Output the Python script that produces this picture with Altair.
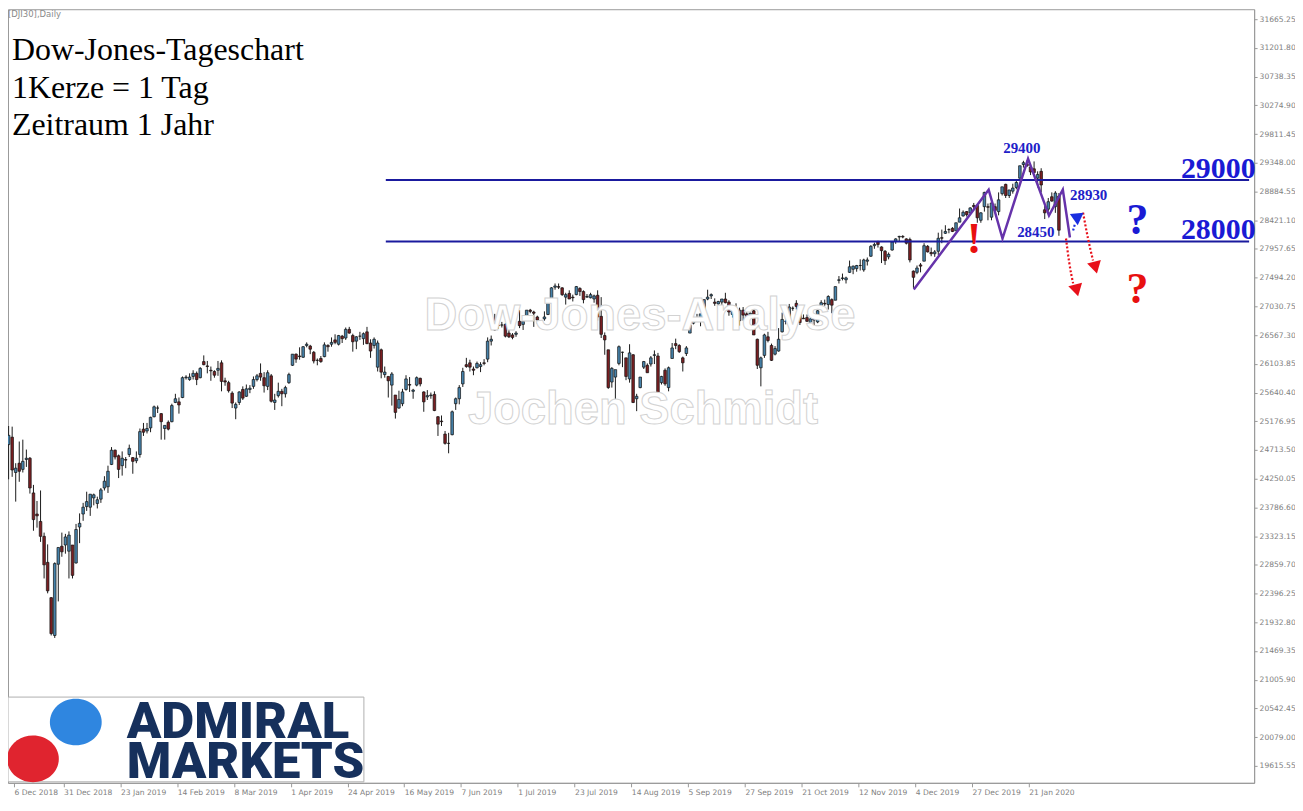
import altair as alt
import pandas as pd

# ---------------- candle data (open, high, low, close) per month ----------------
dec18 = [(24800,25100,24240,24950),(24920,25090,24280,24390),(24350,24500,23880,24420),(24500,24850,24200,24370),
         (24400,24880,24350,24530),(24560,24720,24440,24580),(24580,24600,24010,24100),(24020,24150,23410,23590),
         (23680,23890,23460,23650),(23560,24060,23230,23320),(23320,23380,22640,22860),(22900,23190,22400,22440),
         (22330,22340,21720,21750),(21720,22900,21680,22880),(22870,23140,22270,23140),(23160,23380,22990,23070),
         (23180,23360,23040,23310)]
jan19 = [(23080,23400,22640,23340),(23180,23180,22640,22690),(22890,23520,22880,23430),(23470,23690,23210,23530),
         (23680,23860,23570,23790),(23800,24040,23730,23880),(23790,24000,23650,24000),(23940,24010,23820,23990),
         (23850,23960,23770,23910),(23920,24100,23860,24070),(24100,24290,24060,24210),(24120,24460,24020,24370),
         (24480,24760,24470,24710),(24710,24720,24560,24600),(24620,24640,24260,24400),(24460,24690,24300,24580),
         (24560,24600,24420,24550),(24640,24800,24600,24740),(24590,24600,24330,24530),(24540,24690,24500,24580),
         (24640,25060,24590,25010),(25050,25150,24940,25000)]
feb19 = [(25020,25150,24980,25060),(25070,25250,25000,25240),(25250,25430,25240,25410),(25390,25430,25310,25390),
         (25300,25310,24880,25170),(25060,25110,24880,25110),(25160,25190,25030,25050),(25170,25460,25160,25430),
         (25480,25620,25470,25540),(25490,25560,25300,25440),(25560,25900,25550,25880),(25880,25920,25850,25890),
         (25850,25950,25830,25890),(25900,26000,25850,25950),(25950,25980,25760,25850),(25880,26050,25870,26030),
         (26140,26240,26080,26090),(26070,26150,25950,26060),(26000,26060,25830,25990),(25980,26000,25880,25920)]
mar19 = [(26000,26150,25910,26030),(26120,26160,25660,25820),(25830,25880,25750,25810),(25800,25830,25640,25670),
         (25630,25660,25390,25470),(25390,25480,25210,25450),(25480,25660,25440,25650),(25690,25740,25520,25550),
         (25580,25770,25570,25700),(25690,25760,25630,25710),(25740,25900,25700,25850),(25850,25940,25820,25910),
         (25950,26110,25830,25890),(25880,25970,25640,25750),(25740,26000,25680,25960),(25910,25940,25480,25500),
         (25480,25620,25360,25520),(25590,25800,25560,25660),(25660,25700,25420,25620),(25620,25750,25560,25720),
         (25800,25960,25780,25930)]
apr19 = [(26080,26260,26070,26260),(26260,26270,26120,26180),(26230,26370,26170,26220),(26210,26390,26200,26380),
         (26400,26450,26370,26420),(26390,26410,26260,26340),(26290,26310,26110,26150),(26160,26190,26080,26160),
         (26190,26230,26120,26140),(26220,26450,26210,26410),(26400,26420,26300,26380),(26420,26530,26380,26450),
         (26490,26580,26420,26450),(26420,26570,26400,26560),(26550,26570,26440,26510),(26520,26690,26490,26660),
         (26660,26700,26590,26600),(26560,26590,26300,26460),(26470,26550,26340,26540),(26550,26620,26490,26550),
         (26510,26610,26410,26590)]
may19 = [(26620,26700,26420,26430),(26440,26500,26200,26310),(26400,26530,26350,26500),(26050,26480,25980,26440),
         (26330,26350,25870,25970),(25930,26060,25880,25970),(25900,25900,25560,25830),(25760,25970,25430,25940),
         (25600,25600,25220,25320),(25390,25670,25380,25530),(25460,25700,25420,25650),(25690,25920,25670,25860),
         (25770,25890,25650,25760),(25660,25700,25540,25680),(25760,25900,25740,25880),(25870,25880,25740,25780),
         (25650,25660,25330,25490),(25570,25680,25520,25590),(25590,25640,25540,25600),(25610,25660,25340,25350),
         (25250,25260,24940,25130),(25180,25270,25100,25170),(24970,25020,24800,24820)]
jun19 = [(24820,24990,24660,24820),(24960,25350,24950,25330),(25460,25560,25360,25540),(25540,25760,25450,25720),
         (25780,26040,25730,25980),(26090,26200,26040,26060),(26120,26170,25980,26050),(26020,26060,25920,26000),
         (26040,26140,26030,26110),(26060,26130,25970,26090),(26120,26180,26080,26110),(26180,26530,26130,26470),
         (26470,26560,26400,26500),(26650,26910,26640,26750),(26730,26780,26670,26720),(26730,26780,26690,26730),
         (26740,26760,26530,26550),(26600,26700,26520,26540),(26570,26600,26500,26530),(26580,26630,26540,26600)]
jul19 = [(26790,26970,26680,26720),(26740,26790,26650,26790),(26830,26970,26810,26970),(26970,26990,26920,26950),
         (26940,26960,26700,26920),(26860,26880,26750,26810),(26740,26800,26700,26780),(26830,26950,26800,26860),
         (26900,27090,26890,27090),(27100,27340,27080,27330),(27340,27400,27300,27360),(27350,27400,27310,27340),
         (27330,27340,27200,27220),(27180,27250,27060,27220),(27240,27290,27150,27150),(27180,27220,27110,27170),
         (27220,27360,27210,27350),(27320,27340,27200,27270),(27270,27290,27080,27140),(27180,27230,27170,27190),
         (27170,27250,27160,27220),(27150,27220,27090,27200),(27210,27290,26800,26860)]
aug19 = [(26870,27180,26520,26580),(26560,26610,26250,26490),(26330,26330,25700,25720),(25810,26050,25720,26030),
         (25890,26000,25500,26010),(26110,26400,26080,26380),(26290,26300,26050,26290),(26200,26200,25840,25900),
         (25860,26420,25800,26280),(26250,26260,25470,25480),(25540,25620,25340,25580),(25720,25890,25710,25890),
         (26050,26150,26020,26140),(26080,26110,25960,25960),(26100,26230,26060,26200),(26240,26320,26100,26250),
         (26230,26280,25570,25630),(25800,25910,25770,25900),(26000,26030,25750,25780),(25720,26060,25660,26040),
         (26190,26440,26190,26360),(26430,26510,26340,26400)]
sep19 = [(26400,26420,26280,26300),(26200,26220,25980,26120),(26270,26390,26230,26360),(26600,26850,26600,26730),
         (26760,26840,26740,26800),(26830,26910,26790,26840),(26820,26910,26710,26910),(26920,27140,26900,27140),
         (27150,27300,27130,27180),(27200,27240,27150,27220),(27100,27160,27040,27080),(27070,27120,27010,27110),
         (27100,27150,26920,27150),(27150,27250,27080,27090),(27100,27130,26880,26940),(26900,26980,26850,26950),
         (27000,27080,26720,26810),(26800,27010,26720,26970),(26970,27020,26800,26890),(26910,27000,26740,26820),
         (26860,26990,26860,26920)]
oct19 = [(26960,27050,26570,26570),(26500,26510,26020,26080),(26040,26220,25740,26200),(26240,26590,26200,26570),
         (26540,26620,26450,26480),(26400,26430,26150,26160),(26260,26390,26240,26350),(26310,26680,26300,26500),
         (26620,26930,26610,26820),(26790,26820,26740,26790),(26830,27070,26820,27020),(27000,27030,26960,27000),
         (27080,27130,26980,27030),(27010,27030,26730,26770),(26840,26900,26830,26830),(26850,26900,26780,26790),
         (26770,26840,26730,26830),(26870,26910,26720,26810),(26780,26970,26760,26960),(27030,27130,27010,27090),
         (27080,27140,27040,27070),(27060,27210,26980,27190),(27140,27160,26920,27050)]
nov19 = [(27130,27350,27130,27350),(27450,27520,27400,27460),(27480,27560,27450,27490),(27460,27510,27400,27490),
         (27580,27770,27570,27670),(27630,27690,27550,27680),(27640,27700,27590,27690),(27690,27790,27610,27690),
         (27620,27800,27590,27780),(27760,27820,27690,27780),(27840,28020,27830,28000),(28010,28060,27960,28030),
         (28070,28090,27980,28030),(27990,28000,27730,27930),(27920,27940,27700,27770),(27830,27900,27790,27870),
         (27940,28080,27930,28070),(28080,28130,28040,28120),(28150,28170,28080,28160),(28160,28180,28130,28150),
         (28120,28130,28030,28050)]
dec19 = [(28110,28140,27740,27780),(27600,27610,27330,27500),(27580,27690,27550,27650),(27700,27730,27580,27680),
         (27760,28050,27760,28010),(28000,28020,27900,27910),(27900,27980,27840,27880),(27880,27940,27830,27910),
         (27920,28220,27860,28130),(28140,28270,28050,28130),(28210,28340,28200,28240),(28270,28290,28210,28270),
         (28290,28310,28230,28240),(28250,28380,28250,28380),(28390,28610,28390,28460),(28490,28580,28480,28550),
         (28560,28570,28480,28510),(28540,28630,28530,28620),(28660,28700,28590,28640),(28660,28660,28380,28460),
         (28420,28550,28380,28540)]
jan20 = [(28640,28880,28560,28870),(28640,28690,28420,28630),(28470,28710,28420,28700),(28640,28690,28560,28580),
         (28560,28870,28500,28750),(28850,28960,28820,28960),(29000,29010,28780,28820),(28820,28910,28780,28910),
         (28890,29010,28850,28940),(28950,29060,28920,29030),(29100,29300,29090,29300),(29320,29380,29270,29350),
         (29330,29390,29280,29300),(29280,29320,29150,29200),(29250,29370,29180,29190),(29100,29210,28950,29160),
         (29210,29260,28870,28990),(28590,28650,28440,28540),(28600,28780,28560,28720),(28800,28870,28720,28730),
         (28640,28890,28540,28860),(28810,28860,28170,28260)]

# axis ticks
first_tick_label = '6 Dec 2018'
x_tick_labels = ['31 Dec 2018', '23 Jan 2019', '14 Feb 2019', '8 Mar 2019', '1 Apr 2019', '24 Apr 2019',
                 '16 May 2019', '7 Jun 2019', '1 Jul 2019', '23 Jul 2019', '14 Aug 2019', '5 Sep 2019',
                 '27 Sep 2019', '21 Oct 2019', '12 Nov 2019', '4 Dec 2019', '27 Dec 2019', '21 Jan 2020']
x_tick_bars = [16, 32, 48, 64, 80, 96, 112, 128, 144, 160, 176, 192, 208, 224, 240, 256, 272, 288]
y_tick_values = [19615.55, 20079.00, 20542.45, 21005.90, 21469.35, 21932.80, 22396.25, 22859.70, 23323.15,
                 23786.60, 24250.05, 24713.50, 25176.95, 25640.40, 26103.85, 26567.30, 27030.75, 27494.20,
                 27957.65, 28421.10, 28884.55, 29348.00, 29811.45, 30274.90, 30738.35, 31201.80, 31665.25]

# annotation data (bar index, price)
level_prices = [29070, 28078]
level_start_bar = [106.3, 106.3]
level_end_bar = [349.6, 349.6]
zigzag_bar = [255.1, 276.2, 280.1, 287.3, 293.2, 297.1, 299.1]
zigzag_price = [27305, 28914, 28126, 29413, 28496, 28914, 28142]
red_arrow_group = ['a', 'a', 'a', 'b', 'b', 'b']
red_arrow_bar = [298.0, 298.9, 300.0, 302.8, 304.2, 305.6]
red_arrow_price = [28126, 27740, 27402, 28544, 28126, 27772]
red_head_bar = [301.0, 306.3]
red_head_price = [27289, 27655]
red_head_rot = [346, 346]
blue_arrow_bar = [300.0, 300.6]
blue_arrow_price = [28255, 28380]
blue_head_bar = [300.6]
blue_head_price = [28480]
blue_head_rot = [25]

# ---------------- build ----------------
months = [dec18, jan19, feb19, mar19, apr19, may19, jun19, jul19, aug19, sep19, oct19, nov19, dec19, jan20]
rows = [r for m in months for r in m]
df = pd.DataFrame(rows, columns=['open', 'high', 'low', 'close'])
df['idx'] = range(len(df))

x_min, x_max = 1.23, 349.61
xs = alt.Scale(domain=[x_min, x_max], nice=False, zero=False)
ys = alt.Scale(domain=[19342.2, 31826.1], nice=False, zero=False)

label_array = "[" + ",".join("'%s'" % s for s in x_tick_labels) + "]"
x_axis = alt.Axis(values=[x_min + 0.3] + [b - 0.5 for b in x_tick_bars],
                  labelExpr="datum.value < 10 ? '%s' : %s[round((datum.value+0.5)/16)-1]" % (first_tick_label, label_array),
                  grid=False, domainColor='#9a9a9a', tickColor='#9a9a9a', tickSize=4, labelColor='#808080',
                  labelFont='DejaVu Sans', labelFontSize=7.6, labelAlign='left', labelBaseline='top',
                  labelPadding=2, labelOverlap=False, labelFlush=False)
y_axis = alt.Axis(orient='right', values=y_tick_values, format='.2f', grid=False, domainColor='#9a9a9a',
                  tickColor='#9a9a9a', tickSize=3, labelColor='#808080', labelFont='DejaVu Sans',
                  labelFontSize=7.6, labelPadding=2, labelOverlap=False)


def X(field):
    return alt.X(field, scale=xs, axis=x_axis, title=None)


def Y(field):
    return alt.Y(field, scale=ys, axis=y_axis, title=None)


base = alt.Chart(df)
wicks = base.mark_rule(color='#1b1b1b', strokeWidth=1, clip=True).encode(
    x=X('idx:Q'), y=Y('low:Q'), y2='high:Q')
bodies = base.mark_bar(size=2.6, stroke='#111111', strokeWidth=0.7, clip=True).encode(
    x=X('idx:Q'), y=Y('open:Q'), y2='close:Q',
    fill=alt.condition('datum.close >= datum.open', alt.value('#4682aa'), alt.value('#7a1f22')))

lv = pd.DataFrame({'price': level_prices, 'b0': level_start_bar, 'b1': level_end_bar})
levels = alt.Chart(lv).mark_rule(color='#1a1a9e', strokeWidth=2).encode(x=X('b0:Q'), x2='b1:Q', y=Y('price:Q'))

zz = pd.DataFrame({'bar': zigzag_bar, 'price': zigzag_price, 'o': range(len(zigzag_bar))})
zigzag = alt.Chart(zz).mark_line(color='#6633aa', strokeWidth=2.5).encode(x=X('bar:Q'), y=Y('price:Q'), order='o:Q')

ra = pd.DataFrame({'bar': red_arrow_bar, 'price': red_arrow_price, 'g': red_arrow_group, 'o': range(6)})
red_lines = alt.Chart(ra).mark_line(color='#e8101a', strokeWidth=2.2, strokeDash=[2, 2], interpolate='monotone').encode(
    x=X('bar:Q'), y=Y('price:Q'), detail='g:N', order='o:Q')
rh = pd.DataFrame({'bar': red_head_bar, 'price': red_head_price, 'rot': red_head_rot})
red_heads = alt.Chart(rh).mark_point(shape='triangle-down', filled=True, size=200, color='#e8101a', opacity=1).encode(
    x=X('bar:Q'), y=Y('price:Q'), angle=alt.Angle('rot:Q', scale=None))
ba = pd.DataFrame({'bar': blue_arrow_bar, 'price': blue_arrow_price})
blue_line = alt.Chart(ba).mark_line(color='#1a2ee0', strokeWidth=2.2, strokeDash=[2, 2]).encode(
    x=X('bar:Q'), y=Y('price:Q'))
bh = pd.DataFrame({'bar': blue_head_bar, 'price': blue_head_price, 'rot': blue_head_rot})
blue_head = alt.Chart(bh).mark_point(shape='triangle-left', filled=True, size=190, color='#1a2ee0', opacity=1).encode(
    x=X('bar:Q'), y=Y('price:Q'), angle=alt.Angle('rot:Q', scale=None))

one = pd.DataFrame({'a': [0]})


def txt(t, x, y, size, color, font='Liberation Serif', weight='normal', align='center', baseline='alphabetic', **kw):
    return alt.Chart(one).mark_text(text=t, font=font, fontSize=size, fontWeight=weight, color=color,
                                    align=align, baseline=baseline, **kw).encode(x=alt.value(x), y=alt.value(y))


watermark = [
    txt('Dow-Jones-Analyse', 634, 308, 45.5, 'white', font='Liberation Sans', weight='bold', baseline='middle',
        stroke='#d2d2d2', strokeWidth=1),
    txt('Jochen Schmidt', 637, 402, 45.5, 'white', font='Liberation Sans', weight='bold', baseline='middle',
        stroke='#d2d2d2', strokeWidth=1),
]

texts = [
    txt('[DJI30],Daily', 0, 1, 8.5, '#8a8a8a', font='DejaVu Sans', align='left', baseline='top'),
    txt('Dow-Jones-Tageschart', 4, 51, 32, '#000000', align='left'),
    txt('1Kerze = 1 Tag', 4, 89, 32, '#000000', align='left'),
    txt('Zeitraum 1 Jahr', 4, 126, 32, '#000000', align='left'),
    txt('29400', 1017, 144, 15, '#2020c8', weight='bold'),
    txt('28930', 1084, 191, 15, '#2020c8', weight='bold'),
    txt('28450', 1031, 228, 15, '#2020c8', weight='bold'),
    txt('29000', 1214, 169, 30, '#1a1ad4', weight='bold'),
    txt('28000', 1214, 230, 30, '#1a1ad4', weight='bold'),
    txt('!', 969, 245, 44, '#e81010', weight='bold'),
    txt('?', 1133, 225, 44, '#1a1ad4', weight='bold'),
    txt('?', 1133, 295, 44, '#e81010', weight='bold'),
]

# logo
logo_box = alt.Chart(one).mark_rect(fill='white', stroke='#b0b0b0', strokeWidth=1).encode(
    x=alt.value(0), x2=alt.value(357), y=alt.value(690), y2=alt.value(775))
ellipse = 'M-1,0A1,0.9,0,1,1,1,0A1,0.9,0,1,1,-1,0Z'
blue_dot = alt.Chart(one).mark_point(shape=ellipse, filled=True, size=2704, color='#2f86e0', opacity=1).encode(
    x=alt.value(68), y=alt.value(715))
red_dot = alt.Chart(one).mark_point(shape=ellipse, filled=True, size=2704, color='#e0242f', opacity=1).encode(
    x=alt.value(25), y=alt.value(752))
logo_text = alt.Chart(one).mark_text(text=['ADMIRAL', 'MARKETS'], font='Roboto', fontSize=51, fontWeight=900,
                                     color='#16305c', align='left', baseline='alphabetic', lineHeight=40).encode(
    x=alt.value(119), y=alt.value(731))

layers = [wicks, bodies, levels, zigzag, red_lines, red_heads, blue_line, blue_head] + watermark + texts + \
         [logo_box, blue_dot, red_dot, logo_text]

chart = alt.layer(*layers).properties(
    width=1250, height=776,
    padding={'left': 0, 'top': 0, 'right': 41, 'bottom': 14},
    autosize=alt.AutoSizeParams(type='none'),
    background='white',
).configure_view(stroke='#9a9a9a', strokeWidth=1)

chart.save("out.html", embed_options={"renderer": "svg", "actions": False})
